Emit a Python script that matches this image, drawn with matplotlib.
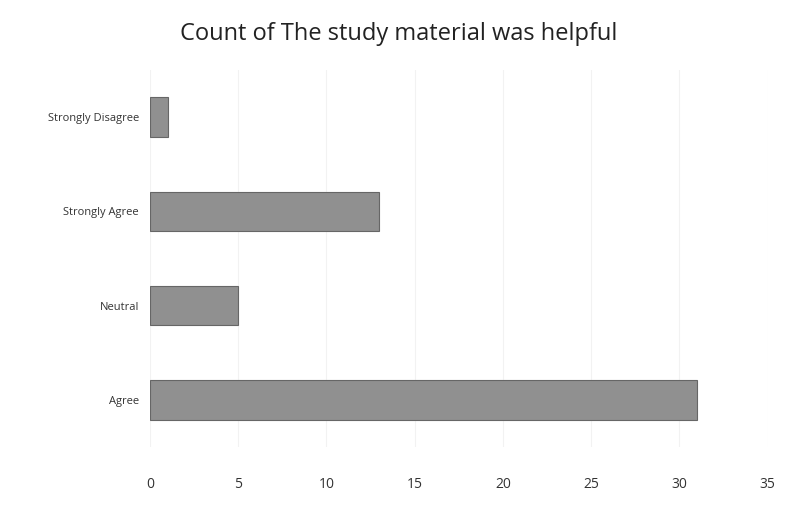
import matplotlib
matplotlib.use('Agg')
import matplotlib.pyplot as plt

# ── data ──────────────────────────────────────────────────────────────
categories = ['Agree', 'Neutral', 'Strongly Agree', 'Strongly Disagree']
counts = [31, 5, 13, 1]
xticks = [0, 5, 10, 15, 20, 25, 30, 35]

BAR = '#909090'
EDGE = '#666666'
TXT = '#333333'

plt.rcParams['font.family'] = ['Open Sans', 'DejaVu Sans']

fig = plt.figure(figsize=(7.98, 5.19), dpi=100)
ax = fig.add_axes([0.188, 0.139, 0.774, 0.726])

ax.barh(categories, counts, height=0.42, color=BAR, edgecolor=EDGE, linewidth=0.8)

ax.set_xlim(0, 35)
ax.set_ylim(-0.5, 3.5)
ax.set_xticks(xticks)
ax.set_xticklabels([str(t) for t in xticks], fontsize=10, color=TXT)
ax.tick_params(axis='x', length=0, pad=22)
ax.tick_params(axis='y', length=0, pad=8, labelsize=8, labelcolor=TXT)
ax.grid(axis='x', color='#f2f2f2', linewidth=0.8)
ax.set_axisbelow(True)
for s in ax.spines.values():
    s.set_visible(False)

fig.text(0.5, 0.935, 'Count of The study material was helpful',
         ha='center', va='center', fontsize=17, color='#222222')

plt.savefig('out.png', dpi=100)
